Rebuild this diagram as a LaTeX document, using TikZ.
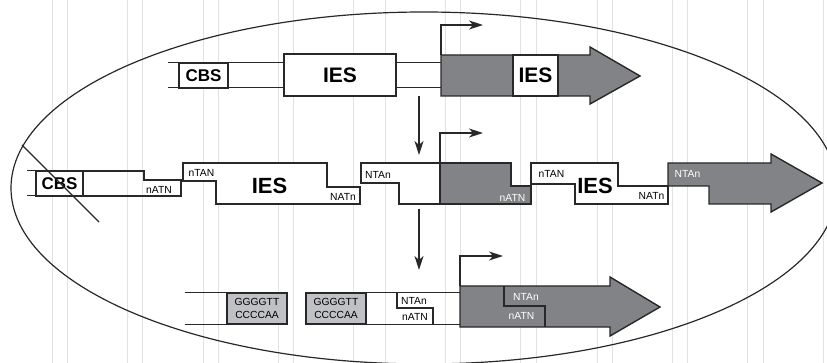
\documentclass[tikz,border=0pt]{standalone}
\usepackage{fontspec}
\setmainfont{Liberation Sans}
\usetikzlibrary{arrows.meta}
\definecolor{arrowgray}{RGB}{130,131,135}
\definecolor{boxgray}{RGB}{192,193,196}
\definecolor{ink}{RGB}{40,40,40}
\definecolor{bgline}{RGB}{226,226,226}
\begin{document}
\begin{tikzpicture}[x=1pt,y=-1pt,
  bgl/.style={draw=bgline, line width=0.8pt},
  dna/.style={draw=ink, line width=1pt},
  outline/.style={draw=ink, line width=1.4pt, line join=miter},
  geneshape/.style={outline, fill=arrowgray},
  whiteshape/.style={outline, fill=white},
  tipped/.style={draw=ink, line width=1.2pt, -{Stealth[length=14pt,width=9pt,inset=4pt]}},
  lbl/.style={inner sep=0, font=\fontsize{10.3}{12}\selectfont},
  wlbl/.style={lbl, text=white},
  seqbox/.style={outline, fill=boxgray, inner sep=0, minimum width=60pt, minimum height=31pt, align=center, font=\fontsize{10.3}{13.5}\selectfont},
  cbsbox/.style={outline, fill=white, inner sep=0, minimum height=25pt, font=\bfseries\fontsize{17}{20}\selectfont},
  iesbox/.style={outline, fill=white, inner sep=0, font=\bfseries\fontsize{21}{25}\selectfont},
  iestext/.style={inner sep=0, font=\bfseries\fontsize{22}{26}\selectfont}
]
\useasboundingbox (0,0) rectangle (827,363);
\clip (0,0) rectangle (827,363);
% faint background rules
\foreach \gx in {52,67,127,142,203,218,278,293,353,385,445,460,520,536,597,612,672,687,747,763,823}
  \draw[bgl] (\gx,0) -- (\gx,363);
% enclosing ellipse
\draw[ink, line width=1.2pt] (424,188) ellipse [x radius=413pt, y radius=176pt];

% ---------------- Row 1 ----------------
\draw[dna] (168,63) -- (284,63);
\draw[dna] (168,88) -- (284,88);
\draw[dna] (396,63) -- (441,63);
\draw[dna] (396,88) -- (441,88);
\node[cbsbox, minimum width=49pt] (cbsA) at (203.5,75.5) {CBS};
\node[iesbox, minimum width=112pt, minimum height=42pt] (iesA) at (340,75) {IES};
\draw[geneshape] (441,55) -- (590,55) -- (590,47) -- (640,76) -- (590,104) -- (590,96) -- (441,96) -- cycle;
\node[iesbox, minimum width=45pt, minimum height=41pt] (iesB) at (535.5,75.5) {IES};
\coordinate (pA) at (441,55);
\coordinate (pAend) at (483,25);
\draw[tipped] (pA) |- (pAend);

% vertical arrow 1
\coordinate (vA1) at (419,96);
\coordinate (vA2) at (419,155);
\draw[tipped] (vA1) -- (vA2);

% ---------------- Row 2 ----------------
\draw[dna] (27,171) -- (36,171);
\draw[dna] (27,196) -- (36,196);
\draw[outline] (83,171) -- (144,171) -- (144,180) -- (181,180) -- (181,196) -- (83,196);
\node[cbsbox, minimum width=47pt] (cbsC) at (59.5,183.5) {CBS};
\node[lbl] (natnA) at (159,189.5) {nATN};

\draw[whiteshape] (183,163) -- (327,163) -- (327,187) -- (360,187) -- (360,204) -- (216,204) -- (216,181) -- (183,181) -- cycle;
\node[lbl] (ntanA) at (201.5,172.5) {nTAN};
\node[iestext] (iesC) at (269.5,185.5) {IES};
\node[lbl] (natnB) at (343,196.5) {NATn};

\draw[whiteshape] (361,163) -- (440,163) -- (440,204) -- (399,204) -- (399,183) -- (361,183) -- cycle;
\node[lbl] (ntanB) at (378,175) {NTAn};

\draw[geneshape] (440,163) -- (511,163) -- (511,186) -- (531,186) -- (531,204) -- (440,204) -- cycle;
\node[wlbl] (natnC) at (512.5,198) {nATN};

\draw[whiteshape] (531,163) -- (618,163) -- (618,186) -- (668,186) -- (668,204) -- (575,204) -- (575,184) -- (531,184) -- cycle;
\node[lbl] (ntanC) at (551.5,173.5) {nTAN};
\node[iestext] (iesD) at (595,185.5) {IES};
\node[lbl] (natnD) at (651.5,196) {NATn};

\draw[geneshape] (668,163) -- (771,163) -- (771,154) -- (822,183) -- (771,212) -- (771,204) -- (709,204) -- (709,186) -- (668,186) -- cycle;
\node[wlbl] (ntanD) at (687.5,173.5) {NTAn};

\coordinate (pB) at (440,163);
\coordinate (pBend) at (483,133);
\draw[tipped] (pB) |- (pBend);

% strike-through of CBS
\coordinate (sk1) at (22,145);
\coordinate (sk2) at (99,222);
\draw[ink, line width=1.2pt] (sk1) -- (sk2);

% vertical arrow 2
\coordinate (vB1) at (419,209);
\coordinate (vB2) at (419,270);
\draw[tipped] (vB1) -- (vB2);

% ---------------- Row 3 ----------------
\draw[dna] (185,293) -- (227,293);
\draw[dna] (185,324) -- (227,324);
\node[seqbox] (gA) at (257,308.5) {GGGGTT\\CCCCAA};
\node[seqbox] (gB) at (336,308.5) {GGGGTT\\CCCCAA};
\draw[dna] (366,293) -- (460,293);
\draw[dna] (366,324) -- (460,324);
\draw[outline] (397,293) -- (397,308) -- (433,308) -- (433,324);
\node[lbl] (ntanE) at (414,301) {NTAn};
\node[lbl] (natnE) at (415,317) {nATN};

\draw[geneshape] (460,286) -- (610,286) -- (610,277) -- (660,307) -- (610,336) -- (610,327) -- (460,327) -- cycle;
\draw[outline] (504,286) -- (504,306) -- (545,306) -- (545,327);
\node[wlbl] (ntanF) at (526,296.5) {NTAn};
\node[wlbl] (natnF) at (521.5,316) {nATN};

\coordinate (pC) at (460,286);
\coordinate (pCend) at (503,256);
\draw[tipped] (pC) |- (pCend);
\end{tikzpicture}
\end{document}
